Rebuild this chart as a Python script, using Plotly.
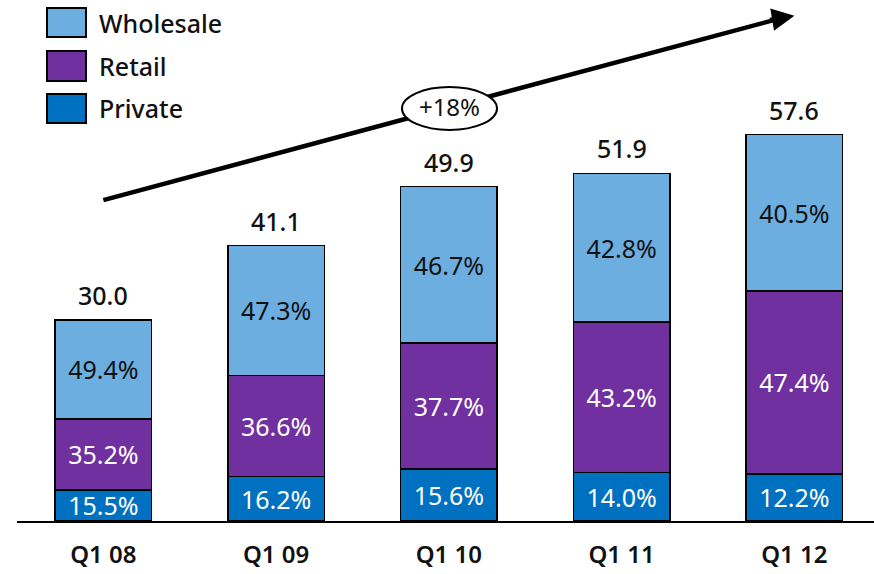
import plotly.graph_objects as go

categories = ["Q1 08", "Q1 09", "Q1 10", "Q1 11", "Q1 12"]
totals = [30.0, 41.1, 49.9, 51.9, 57.6]
private_pct = [15.5, 16.2, 15.6, 14.0, 12.2]
retail_pct = [35.2, 36.6, 37.7, 43.2, 47.4]
wholesale_pct = [49.4, 47.3, 46.7, 42.8, 40.5]
growth_label = "+18%"

FONT = "Noto Sans"
C_PRIV = "#0070C0"
C_RET = "#7030A0"
C_WHO = "#6CAEE0"

def seg(pcts):
    return [t * p / 100 for t, p in zip(totals, pcts)]

fig = go.Figure()
series = [
    ("Private", private_pct, C_PRIV, "white"),
    ("Retail", retail_pct, C_RET, "white"),
    ("Wholesale", wholesale_pct, C_WHO, "#111111"),
]
for name, pcts, col, tcol in series:
    fig.add_trace(go.Bar(
        x=categories, y=seg(pcts), name=name,
        marker=dict(color=col, line=dict(color="black", width=1.5)),
        text=[f"{p:.1f}%" for p in pcts], textposition="inside",
        insidetextanchor="middle", textangle=0, constraintext="none",
        textfont=dict(family=FONT, size=25, color=tcol),
        width=0.56, showlegend=False, hoverinfo="skip",
    ))

# totals above bars
for c, t in zip(categories, totals):
    fig.add_annotation(x=c, y=t, text=f"{t:.1f}", showarrow=False,
                       yanchor="bottom", yshift=6,
                       font=dict(family=FONT, size=25, color="#111111", weight=500))

# legend (manual)
legend_items = [("Wholesale", C_WHO, 0.929, 0.9846),
                ("Retail", C_RET, 0.8445, 0.9021),
                ("Private", C_PRIV, 0.7639, 0.8196)]
for name, col, y0, y1 in legend_items:
    fig.add_shape(type="rect", xref="paper", yref="paper",
                  x0=0.035, x1=0.0805, y0=y0, y1=y1,
                  fillcolor=col, line=dict(color="black", width=2))
    fig.add_annotation(xref="paper", yref="paper", x=0.0933, y=(y0 + y1) / 2,
                       text=name, showarrow=False, xanchor="left", yanchor="middle",
                       font=dict(family=FONT, size=25, color="#111111", weight=500))

# growth arrow
fig.add_shape(type="line", xref="x", yref="y", x0=0, y0=47.9, x1=3.93, y1=75.1,
              line=dict(color="black", width=4.5))
fig.add_annotation(xref="x", yref="y", axref="x", ayref="y",
                   x=4.0, y=75.4, ax=3.85, ay=74.75, text="", showarrow=True,
                   arrowhead=2, arrowsize=1.0, arrowwidth=4.5, arrowcolor="black")
fig.add_shape(type="circle", xref="paper", yref="paper",
              x0=0.4492, x1=0.5601, y0=0.7505, y1=0.833,
              fillcolor="white", line=dict(color="black", width=2),
              label=dict(text=growth_label, textposition="middle center",
                         font=dict(family=FONT, size=24, color="#111111")))

fig.update_layout(
    barmode="stack",
    width=874, height=574,
    margin=dict(l=17, r=0, t=0, b=53),
    plot_bgcolor="white", paper_bgcolor="white",
    showlegend=False,
    xaxis=dict(range=[-0.5, 4.461], showline=True, linecolor="black", linewidth=2,
               ticks="", showgrid=False, zeroline=False, ticklabelstandoff=11,
               tickfont=dict(family=FONT, size=24, color="#111111", weight=600)),
    yaxis=dict(range=[0, 77.76], visible=False, showgrid=False, zeroline=False),
)

fig.write_html("out.html", config={"displayModeBar": False},
               post_script="document.body.style.margin='0px';")
